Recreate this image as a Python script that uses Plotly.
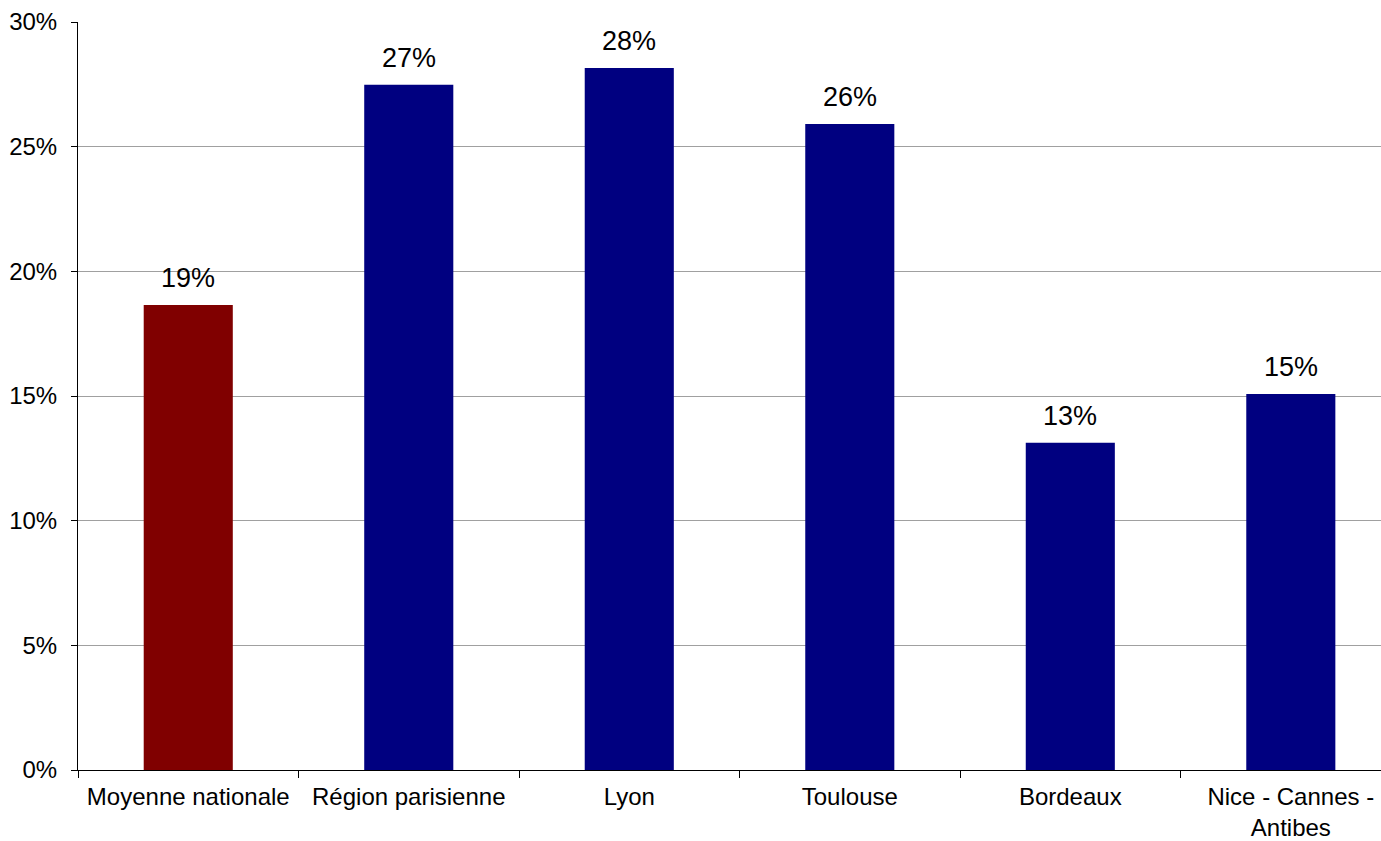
import plotly.graph_objects as go

categories = ["Moyenne nationale", "Région parisienne", "Lyon", "Toulouse", "Bordeaux", "Nice - Cannes -<br>Antibes"]
values = [0.1865, 0.2748, 0.2816, 0.2591, 0.1312, 0.1508]
labels = ["19%", "27%", "28%", "26%", "13%", "15%"]
colors = ["#800000", "#000080", "#000080", "#000080", "#000080", "#000080"]

FONT = "Liberation Sans, Arial, sans-serif"
xs = list(range(len(categories)))
XRANGE = [-0.5, 5.409]

fig = go.Figure(go.Bar(
    x=xs,
    y=values,
    width=0.404,
    marker=dict(color=colors, line=dict(width=0)),
    hoverinfo="skip",
))

for x, v, t in zip(xs, values, labels):
    fig.add_annotation(x=x, y=v, text=t, showarrow=False, yanchor="bottom",
                       yshift=10, font=dict(family=FONT, size=27, color="black"))

fig.update_layout(
    width=1381, height=841,
    margin=dict(l=78, r=0, t=22, b=71),
    plot_bgcolor="white", paper_bgcolor="white",
    font=dict(family=FONT, size=24, color="black"),
    showlegend=False,
    xaxis=dict(
        range=XRANGE,
        tickmode="array",
        tickvals=xs,
        ticktext=categories,
        showgrid=False,
        showline=True, linecolor="black", linewidth=1,
        ticks="", zeroline=False,
        ticklabelstandoff=5,
        automargin=False,
        tickfont=dict(family=FONT, size=24, color="black"),
    ),
    yaxis=dict(
        range=[0, 0.30],
        dtick=0.05,
        tickformat=".0%",
        showgrid=True, gridcolor="#a0a0a0", gridwidth=1,
        showline=True, linecolor="black", linewidth=1,
        ticks="outside", ticklen=6, tickcolor="black",
        ticklabelstandoff=9,
        zeroline=False,
        automargin=False,
        tickfont=dict(family=FONT, size=24, color="black"),
    ),
)

# category boundary tick marks on x axis
fig.add_trace(go.Scatter(x=[-0.5], y=[0], mode="markers", marker=dict(opacity=0),
                         hoverinfo="skip", showlegend=False, xaxis="x2"))
fig.update_layout(xaxis2=dict(
    overlaying="x", matches="x", range=XRANGE,
    tickmode="array", tickvals=[-0.5] + [i + 0.5 for i in range(len(categories) - 1)],
    ticks="outside", ticklen=7, tickcolor="black", showticklabels=False,
    showgrid=False, showline=False, zeroline=False, side="bottom", anchor="y",
    automargin=False,
))

fig.write_html("out.html", config={"displayModeBar": False},
               post_script="document.body.style.margin='0';document.body.style.overflow='hidden';")
